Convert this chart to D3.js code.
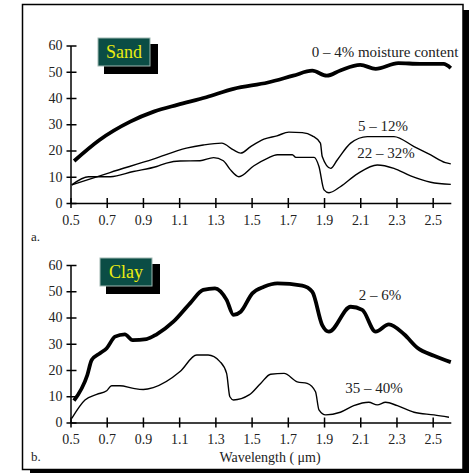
<!DOCTYPE html>
<html>
<head>
<meta charset="utf-8">
<script src="https://cdn.jsdelivr.net/npm/d3@7"></script>
<style>
  body { margin: 0; background: #fff; }
  svg { display: block; font-family: "Liberation Serif", "Times New Roman", serif; }
</style>
</head>
<body>
<div id="chart"></div>
<script>
// tick labels
const xTicks = [0.5, 0.7, 0.9, 1.1, 1.3, 1.5, 1.7, 1.9, 2.1, 2.3, 2.5];
const yTicks = [0, 10, 20, 30, 40, 50, 60];

// a. Sand  (wavelength in um, reflectance in %)
const sandDryWl = [0.52, 0.66, 0.83, 0.96, 1.09, 1.25, 1.40, 1.59, 1.73, 1.835, 1.915, 1.99, 2.10, 2.185, 2.31, 2.43, 2.56, 2.6];
const sandDry   = [16, 24, 31, 34.8, 37.4, 40.3, 43.5, 45.9, 48.5, 50.4, 48.5, 50.5, 52.6, 51.1, 53.3, 53, 53, 51.4];

const sandMidWl = [0.507, 0.718, 0.957, 1.14, 1.233, 1.335, 1.40, 1.44, 1.495, 1.568, 1.64, 1.706, 1.78, 1.835, 1.88, 1.89, 1.937, 1.973, 2.047, 2.139, 2.286, 2.397, 2.489, 2.57, 2.6];
const sandMid   = [6.9, 11.6, 16.7, 20.9, 22.1, 22.8, 20.2, 19, 21.5, 24.3, 25.6, 27, 26.8, 25.6, 22.8, 17.7, 13.2, 16.4, 22.8, 25.3, 25.3, 21.5, 18.3, 15.4, 14.9];

const sandWetWl = [0.507, 0.6, 0.72, 0.847, 0.976, 1.03, 1.105, 1.215, 1.29, 1.344, 1.38, 1.43, 1.513, 1.587, 1.642, 1.725, 1.744, 1.845, 1.872, 1.9, 1.927, 1.99, 2.084, 2.194, 2.286, 2.378, 2.489, 2.6];
const sandWet   = [6.9, 10, 10, 12, 13.9, 15.2, 16, 16.1, 17.3, 16.1, 12.9, 10, 14.2, 17, 18.4, 18.4, 17.4, 17.4, 13.9, 5, 3.9, 6.2, 11.1, 14.5, 13.2, 10.3, 7.9, 7.1];

// b. Clay
const clayDryWl = [0.519, 0.593, 0.617, 0.663, 0.70, 0.746, 0.80, 0.843, 0.92, 0.976, 1.068, 1.16, 1.233, 1.298, 1.362, 1.40, 1.44, 1.504, 1.568, 1.642, 1.78, 1.835, 1.89, 1.927, 2.047, 2.111, 2.185, 2.258, 2.342, 2.415, 2.507, 2.6];
const clayDry   = [8.3, 18.1, 23.8, 26.4, 28.3, 32.7, 33.6, 31.4, 31.8, 33.6, 38.4, 45.4, 50.5, 51.1, 46.7, 41, 42.2, 49.2, 51.7, 53, 52.1, 49.8, 37.1, 34.6, 44.1, 42.9, 34.6, 37.4, 33.6, 28.5, 25.4, 23];

const clayWetWl = [0.507, 0.58, 0.645, 0.70, 0.727, 0.773, 0.847, 0.902, 0.957, 1.105, 1.197, 1.26, 1.325, 1.362, 1.38, 1.40, 1.486, 1.55, 1.605, 1.679, 1.752, 1.807, 1.853, 1.872, 1.909, 1.99, 2.064, 2.147, 2.194, 2.24, 2.305, 2.397, 2.507, 2.59];
const clayWet   = [1.6, 8.6, 10.7, 12.1, 14, 14, 13, 12.6, 13.3, 19.4, 25.7, 25.7, 23.2, 18.7, 9.8, 8.6, 10.5, 14.9, 18.4, 18.7, 15.5, 14.9, 11.7, 4.8, 2.9, 3.9, 6.4, 7.7, 6.7, 7.7, 6.4, 3.9, 2.9, 2];

const W = 469, H = 473;

const svg = d3.select("#chart")
  .append("svg")
    .attr("width", W)
    .attr("height", H);

// frame with drop shadow
svg.append("rect").attr("x", 30).attr("y", 10).attr("width", 441).attr("height", 466).attr("fill", "#000");
svg.append("rect").attr("x", 22.5).attr("y", 4.5).attr("width", 440.5).attr("height", 465)
  .attr("fill", "#fff").attr("stroke", "#000").attr("stroke-width", 1.5);

const x = d3.scaleLinear().domain([0.5, 2.6]).range([70.5, 450.8]);

// one panel = axes + lines + label box
function panel(y0, title, series, letter) {
  const y = d3.scaleLinear().domain([0, 60]).range([y0, y0 - 157.5]);
  const g = svg.append("g");

  const xa = g.append("g")
    .attr("transform", `translate(0,${y0})`)
    .call(d3.axisBottom(x).tickValues(xTicks).tickFormat(d3.format(".1f")).tickSize(5).tickPadding(7).tickSizeOuter(0));
  xa.selectAll(".tick line").attr("y1", -5).attr("y2", 5);

  const ya = g.append("g")
    .attr("transform", `translate(${x(0.5)},0)`)
    .call(d3.axisLeft(y).tickValues(yTicks).tickSize(4).tickPadding(4).tickSizeOuter(0));
  ya.selectAll(".tick line").attr("x1", 6).attr("x2", -4);

  g.selectAll(".domain, .tick line").attr("stroke", "#000").attr("stroke-width", 1.5);
  g.selectAll(".tick text").attr("font-size", 14).attr("font-family", "Liberation Serif").attr("fill", "#222");

  const line = d3.line()
    .x(d => x(d[0]))
    .y(d => y(d[1]))
    .curve(d3.curveMonotoneX);

  series.forEach(s => {
    g.append("path")
      .datum(d3.zip(s.wl, s.v))
      .attr("d", line)
      .attr("fill", "none")
      .attr("stroke", "#000")
      .attr("stroke-width", s.w)
      .attr("stroke-linejoin", "round");
    g.append("text")
      .attr("x", s.lx).attr("y", s.ly)
      .attr("text-anchor", "middle")
      .attr("font-size", 15)
      .attr("fill", "#222")
      .text(s.label);
  });

  // title box
  g.append("rect").attr("x", title.x + 6).attr("y", title.y + 6).attr("width", 54).attr("height", 30).attr("fill", "#000");
  g.append("rect").attr("x", title.x).attr("y", title.y).attr("width", 52).attr("height", 28)
    .attr("fill", "#0b4d45").attr("stroke", "#9fb8b2").attr("stroke-width", 1);
  g.append("text")
    .attr("x", title.x + 26).attr("y", title.y + 20)
    .attr("text-anchor", "middle")
    .attr("font-size", 18)
    .attr("fill", "#ecec10")
    .text(title.text);

  g.append("text").attr("x", 31).attr("y", y0 + 38).attr("font-size", 13).attr("fill", "#222").text(letter);
}

panel(203, {x: 98, y: 38, text: "Sand"}, [
  {wl: sandDryWl, v: sandDry, w: 3.8, label: "0 – 4% moisture content", lx: 385, ly: 57},
  {wl: sandMidWl, v: sandMid, w: 1.4, label: "5 – 12%", lx: 383, ly: 131},
  {wl: sandWetWl, v: sandWet, w: 1.4, label: "22 – 32%", lx: 386, ly: 158}
], "a.");

panel(422.5, {x: 100, y: 258, text: "Clay"}, [
  {wl: clayDryWl, v: clayDry, w: 3.8, label: "2 – 6%", lx: 380, ly: 300},
  {wl: clayWetWl, v: clayWet, w: 1.4, label: "35 – 40%", lx: 374, ly: 393}
], "b.");

svg.append("text")
  .attr("x", 270).attr("y", 462)
  .attr("text-anchor", "middle")
  .attr("font-size", 14)
  .attr("fill", "#222")
  .text("Wavelength ( μm)");
</script>
</body>
</html>
